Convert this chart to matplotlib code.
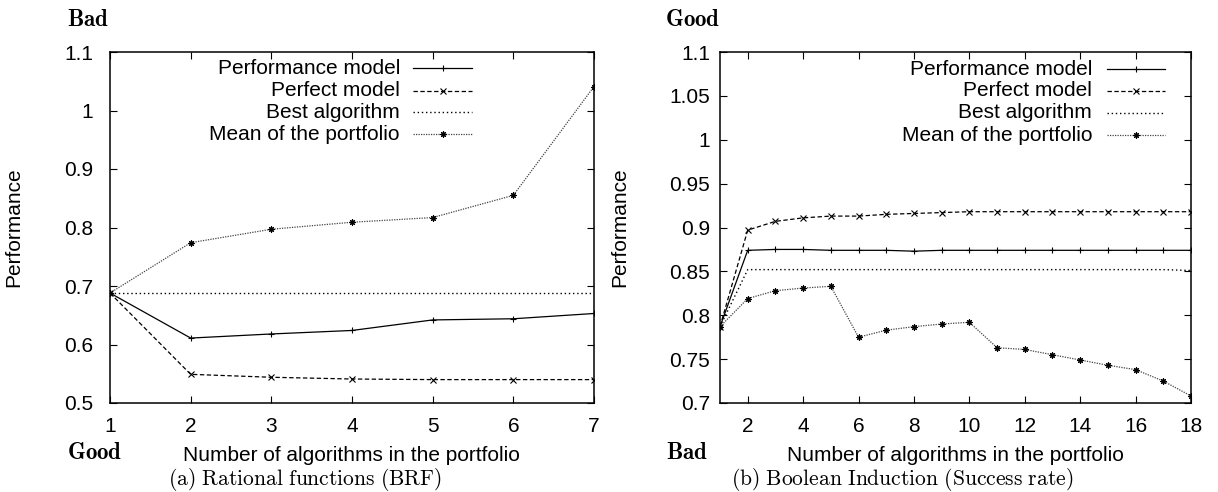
import matplotlib
matplotlib.use("Agg")
import matplotlib.pyplot as plt
from matplotlib.lines import Line2D

plt.rcParams["font.family"] = ["Liberation Sans", "DejaVu Sans"]
plt.rcParams["mathtext.fontset"] = "cm"

# (a) Rational functions (BRF)
x_brf = [1, 2, 3, 4, 5, 6, 7]
perf_model_brf = [0.688, 0.611, 0.618, 0.624, 0.642, 0.644, 0.653]
perfect_model_brf = [0.688, 0.549, 0.544, 0.541, 0.540, 0.540, 0.540]
best_algo_brf = [0.688, 0.688, 0.688, 0.688, 0.688, 0.688, 0.688]
mean_portfolio_brf = [0.688, 0.774, 0.797, 0.809, 0.817, 0.855, 1.041]
yticks_brf = [0.5, 0.6, 0.7, 0.8, 0.9, 1.0, 1.1]
ytick_labels_brf = ["0.5", "0.6", "0.7", "0.8", "0.9", "1", "1.1"]
xticks_brf = [1, 2, 3, 4, 5, 6, 7]

# (b) Boolean Induction (Success rate)
x_bool = list(range(1, 19))
perf_model_bool = [0.787, 0.874, 0.875, 0.875, 0.874, 0.874, 0.874, 0.873, 0.874,
                   0.874, 0.874, 0.874, 0.874, 0.874, 0.874, 0.874, 0.874, 0.874]
perfect_model_bool = [0.787, 0.897, 0.907, 0.911, 0.913, 0.913, 0.915, 0.916, 0.917,
                      0.918, 0.918, 0.918, 0.918, 0.918, 0.918, 0.918, 0.918, 0.918]
best_algo_bool = [0.787, 0.852, 0.852, 0.852, 0.852, 0.852, 0.852, 0.852, 0.852,
                  0.852, 0.852, 0.852, 0.852, 0.852, 0.852, 0.852, 0.852, 0.851]
mean_portfolio_bool = [0.787, 0.819, 0.828, 0.831, 0.833, 0.775, 0.783, 0.787, 0.790,
                       0.792, 0.763, 0.761, 0.755, 0.749, 0.743, 0.738, 0.725, 0.708]
yticks_bool = [0.7, 0.75, 0.8, 0.85, 0.9, 0.95, 1.0, 1.05, 1.1]
ytick_labels_bool = ["0.7", "0.75", "0.8", "0.85", "0.9", "0.95", "1", "1.05", "1.1"]
xticks_bool = [2, 4, 6, 8, 10, 12, 14, 16, 18]

series_labels = ["Performance model", "Perfect model", "Best algorithm",
                 "Mean of the portfolio"]

W, H = 1218, 492
fig = plt.figure(figsize=(W / 100, H / 100), dpi=100)

SANS = 15

STYLES = [
    dict(color="black", lw=0.9, ls="-", marker="+", ms=5, mew=0.8),
    dict(color="black", lw=0.9, ls=(0, (3.5, 2)), marker="x", ms=4.5, mew=0.8),
    dict(color="black", lw=1.0, ls=(0, (1, 2)), marker=None),
    dict(color="#444444", lw=0.9, ls=(0, (1, 1)), marker=(8, 2, 0), ms=4.5, mew=0.8,
         mec="black"),
]


def axes_px(x0, x1, y0, y1):
    return fig.add_axes([x0 / W, 1 - y1 / H, (x1 - x0) / W, (y1 - y0) / H])


def style_axes(ax, ypad):
    for s in ax.spines.values():
        s.set_linewidth(1.1)
    ax.tick_params(direction="in", top=True, right=True, length=5, width=0.8,
                   labelsize=SANS)
    ax.tick_params(axis="y", pad=ypad)
    ax.tick_params(axis="x", pad=10)


def draw_series(ax, x, ys):
    for y, st in zip(ys, STYLES):
        ax.plot(x, y, **st)


def draw_key(ax, text_x, h0, h1, rows):
    for label, st, yy in zip(series_labels, STYLES, rows):
        ax.text(text_x, yy, label, transform=ax.transAxes, ha="right",
                va="center", fontsize=SANS)
        line_kw = {k: v for k, v in st.items() if k not in ("marker", "ms", "mew", "mec")}
        ax.add_line(Line2D([h0, h1], [yy, yy], transform=ax.transAxes, **line_kw))
        if st.get("marker") is not None:
            mk = {k: st[k] for k in ("marker", "ms", "mew", "color")}
            if "mec" in st:
                mk["mec"] = st["mec"]
            ax.add_line(Line2D([(h0 + h1) / 2], [yy], transform=ax.transAxes,
                               ls="none", **mk))


# Left panel
ax1 = axes_px(110, 594, 52, 403)
draw_series(ax1, x_brf, [perf_model_brf, perfect_model_brf, best_algo_brf,
                         mean_portfolio_brf])
ax1.set_xlim(1, 7)
ax1.set_ylim(0.5, 1.1)
ax1.set_xticks(xticks_brf)
ax1.set_yticks(yticks_brf)
ax1.set_yticklabels(ytick_labels_brf)
style_axes(ax1, 12)
draw_key(ax1, 0.599, 0.626, 0.748, [0.9535, 0.8897, 0.8282, 0.7655])

# Right panel
ax2 = axes_px(720, 1191, 52, 403)
draw_series(ax2, x_bool, [perf_model_bool, perfect_model_bool, best_algo_bool,
                          mean_portfolio_bool])
ax2.set_xlim(1, 18)
ax2.set_ylim(0.7, 1.1)
ax2.set_xticks(xticks_bool)
ax2.set_yticks(yticks_bool)
ax2.set_yticklabels(ytick_labels_bool)
style_axes(ax2, 7)
draw_key(ax2, 0.790, 0.822, 0.945, [0.9507, 0.8889, 0.8271, 0.7635])


def ftext(px, py, s, **kw):
    fig.text(px / W, 1 - py / H, s, **kw)


# Axis titles
ftext(14, 227.5, "Performance", rotation=90, ha="center", va="center", fontsize=SANS)
ftext(620, 227.5, "Performance", rotation=90, ha="center", va="center", fontsize=SANS)
ftext(351.5, 461, "Number of algorithms in the portfolio", ha="center",
      va="baseline", fontsize=SANS)
ftext(955.5, 461, "Number of algorithms in the portfolio", ha="center",
      va="baseline", fontsize=SANS)

# Direction hints
ftext(67, 26, r"$\mathbf{Bad}$", ha="left", va="baseline", fontsize=16.5)
ftext(665, 26, r"$\mathbf{Good}$", ha="left", va="baseline", fontsize=16.5)
ftext(67, 459, r"$\mathbf{Good}$", ha="left", va="baseline", fontsize=16.5)
ftext(666, 459, r"$\mathbf{Bad}$", ha="left", va="baseline", fontsize=16.5)

# Sub-captions
ftext(168, 485, r"$\mathrm{(a)\ Rational\ functions\ (BRF)}$", ha="left",
      va="baseline", fontsize=15.5)
ftext(731, 485, r"$\mathrm{(b)\ Boolean\ Induction\ (Success\ rate)}$", ha="left",
      va="baseline", fontsize=15.5)

fig.savefig("out.png", dpi=100)
